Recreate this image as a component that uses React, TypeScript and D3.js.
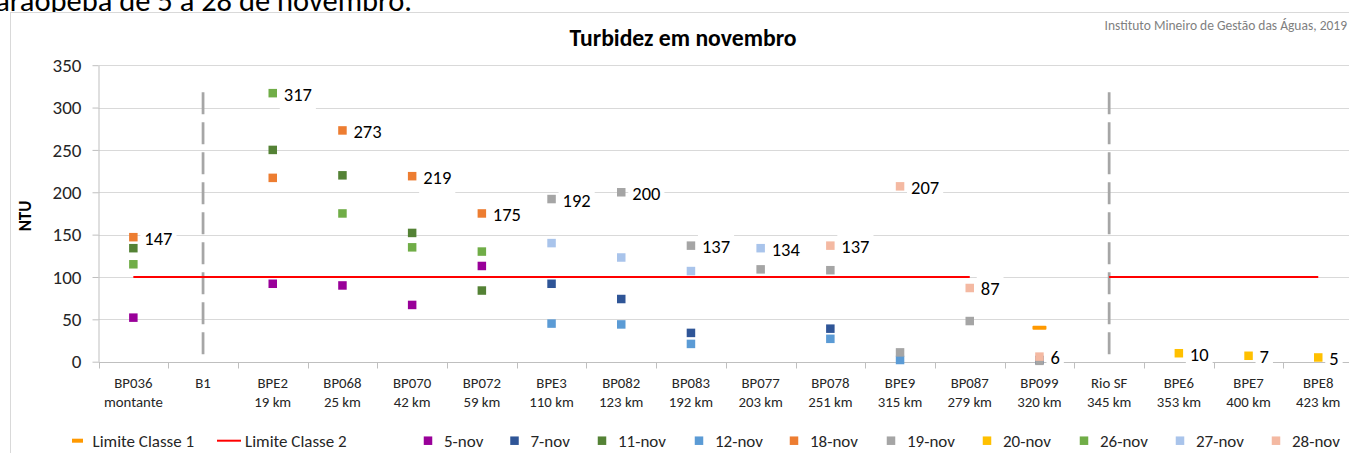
import React, { useEffect, useRef } from "react";
import * as d3 from "d3";

const categories = [
  "BP036", "B1", "BPE2", "BP068", "BP070", "BP072", "BPE3", "BP082", "BP083",
  "BP077", "BP078", "BPE9", "BP087", "BP099", "Rio SF", "BPE6", "BPE7", "BPE8",
];
const distances = [
  "montante", "", "19 km", "25 km", "42 km", "59 km", "110 km", "123 km", "192 km",
  "203 km", "251 km", "315 km", "279 km", "320 km", "345 km", "353 km", "400 km", "423 km",
];

const n = null;
// limites (NTU)
const limiteClasse1 = [n, n, n, n, n, n, n, n, n, n, n, n, n, 40, n, n, n, n];
const limiteClasse2 = [100, 100, 100, 100, 100, 100, 100, 100, 100, 100, 100, 100, 100, n, 100, 100, 100, 100];
// separadores verticais (B1 e Rio SF)
const divisores = [n, 318, n, n, n, n, n, n, n, n, n, n, n, n, 318, n, n, n];

const nov5 = [52, n, 92, 90, 67, 113, n, n, n, n, n, n, n, n, n, n, n, n];
const nov7 = [n, n, n, n, n, n, 92, 74, 34, n, 39, n, n, 2, n, n, n, n];
const nov11 = [134, n, 250, 220, 152, 84, n, n, n, n, n, n, n, n, n, n, n, n];
const nov12 = [n, n, n, n, n, n, 45, 44, 21, n, 27, 2, n, n, n, n, n, n];
const nov18 = [147, n, 217, 273, 219, 175, n, n, n, n, n, n, n, n, n, n, n, n];
const nov19 = [n, n, n, n, n, n, 192, 200, 137, 109, 108, 11, 48, 1, n, n, n, n];
const nov20 = [n, n, n, n, n, n, n, n, n, n, n, n, n, n, n, 10, 7, 5];
const nov26 = [115, n, 317, 175, 135, 130, n, n, n, n, n, n, n, n, n, n, n, n];
const nov27 = [n, n, n, n, n, n, 140, 123, 107, 134, n, n, n, n, n, n, n, n];
const nov28 = [n, n, n, n, n, n, n, n, n, n, 137, 207, 87, 6, n, n, n, n];

const dateNames = ["5-nov", "7-nov", "11-nov", "12-nov", "18-nov", "19-nov", "20-nov", "26-nov", "27-nov", "28-nov"];
const dateValues = [nov5, nov7, nov11, nov12, nov18, nov19, nov20, nov26, nov27, nov28];
const dateColors = ["#990099", "#2F5597", "#548235", "#5B9BD5", "#ED7D31", "#A5A5A5", "#FFC000", "#70AD47", "#A9C4EB", "#F4B9A2"];

const yTicks = [0, 50, 100, 150, 200, 250, 300, 350];

// legend layout (marker centres)
const legendDateX = [428, 514.5, 602, 699, 794, 891, 987, 1084, 1180, 1276];

const FONT = "Carlito, Calibri, Lato, sans-serif";

export default function App() {
  const svgRef = useRef<SVGSVGElement>(null);

  useEffect(() => {
    if (!svgRef.current) return;
    const svg = d3.select(svgRef.current);
    svg.selectAll("*").remove();

    const left = 98.5;
    const step = 69.7;
    const x = d3
      .scaleBand()
      .domain(categories)
      .range([left, left + step * categories.length]);
    const cx = (i: number) => (x(categories[i]) as number) + x.bandwidth() / 2;
    const y = d3.scaleLinear().domain([0, 350]).range([361.7, 65.2]);

    // cropped heading from the page above the chart
    svg
      .append("text")
      .attr("x", 412)
      .attr("y", 10.5)
      .attr("text-anchor", "end")
      .attr("font-family", FONT)
      .attr("font-size", 30.5)
      .attr("fill", "#000")
      .text("Paraopeba de 5 a 28 de novembro.");

    // chart frame
    svg
      .append("rect")
      .attr("x", 10.5)
      .attr("y", 12.5)
      .attr("width", 1400)
      .attr("height", 500)
      .attr("fill", "#fff")
      .attr("stroke", "#d9d9d9");

    svg
      .append("text")
      .attr("x", 1347)
      .attr("y", 29.5)
      .attr("text-anchor", "end")
      .attr("font-family", FONT)
      .attr("font-size", 13.5)
      .attr("fill", "#7f7f7f")
      .text("Instituto Mineiro de Gestão das Águas, 2019");

    svg
      .append("text")
      .attr("x", 683)
      .attr("y", 46)
      .attr("text-anchor", "middle")
      .attr("font-family", FONT)
      .attr("font-size", 23.7)
      .attr("font-weight", "bold")
      .attr("fill", "#000")
      .text("Turbidez em novembro");

    // gridlines
    const right = 1349;
    svg
      .append("g")
      .selectAll("line")
      .data(yTicks.filter((t) => t > 0))
      .enter()
      .append("line")
      .attr("x1", left)
      .attr("x2", right)
      .attr("y1", (d) => Math.round(y(d)) + 0.5)
      .attr("y2", (d) => Math.round(y(d)) + 0.5)
      .attr("stroke", "#d9d9d9");

    // y axis
    const yAxis = svg
      .append("g")
      .attr("transform", `translate(${left},0)`)
      .call(d3.axisLeft(y).tickValues(yTicks).tickSize(6).tickSizeOuter(0).tickPadding(11));
    yAxis.select(".domain").attr("stroke", "#bfbfbf");
    yAxis.selectAll(".tick line").attr("stroke", "#bfbfbf");
    yAxis
      .selectAll(".tick text")
      .attr("font-family", FONT)
      .attr("font-size", 19)
      .attr("fill", "#262626");

    svg
      .append("text")
      .attr("transform", "translate(31,216) rotate(-90)")
      .attr("text-anchor", "middle")
      .attr("font-family", FONT)
      .attr("font-size", 17)
      .attr("font-weight", "bold")
      .attr("fill", "#000")
      .text("NTU");

    // x axis: line, boundary ticks, two-line labels
    const axisY = Math.round(y(0)) + 0.5;
    svg
      .append("line")
      .attr("x1", left)
      .attr("x2", right)
      .attr("y1", axisY)
      .attr("y2", axisY)
      .attr("stroke", "#bfbfbf");
    const bounds = categories.map((c) => x(c) as number);
    svg
      .append("g")
      .selectAll("line")
      .data(bounds)
      .enter()
      .append("line")
      .attr("x1", (d) => Math.round(d) + 0.5)
      .attr("x2", (d) => Math.round(d) + 0.5)
      .attr("y1", axisY)
      .attr("y2", axisY + 6)
      .attr("stroke", "#bfbfbf");
    const xl = svg
      .append("g")
      .attr("font-family", FONT)
      .attr("font-size", 14.8)
      .attr("fill", "#262626")
      .attr("text-anchor", "middle");
    categories.forEach((c, i) => {
      xl.append("text").attr("x", cx(i)).attr("y", 388).text(c);
      if (distances[i]) xl.append("text").attr("x", cx(i)).attr("y", 407).text(distances[i]);
    });

    // vertical dashed separators
    svg
      .append("g")
      .selectAll("line")
      .data(divisores.map((v, i) => ({ v, i })).filter((d) => d.v != null))
      .enter()
      .append("line")
      .attr("x1", (d) => cx(d.i))
      .attr("x2", (d) => cx(d.i))
      .attr("y1", (d) => y(d.v as number))
      .attr("y2", y(0))
      .attr("stroke", "#a6a6a6")
      .attr("stroke-width", 2.75)
      .attr("stroke-dasharray", "22,8");

    // Limite Classe 2
    const line = d3
      .line<number | null>()
      .defined((d) => d != null)
      .x((_, i) => cx(i))
      .y((d) => y(d as number));
    svg
      .append("path")
      .datum(limiteClasse2)
      .attr("fill", "none")
      .attr("stroke", "#FF0000")
      .attr("stroke-width", 2)
      .attr("d", line);

    // Limite Classe 1 (dash marker)
    svg
      .append("g")
      .selectAll("rect")
      .data(limiteClasse1.map((v, i) => ({ v, i })).filter((d) => d.v != null))
      .enter()
      .append("rect")
      .attr("x", (d) => cx(d.i) - 7)
      .attr("y", (d) => y(d.v as number) - 2)
      .attr("width", 14)
      .attr("height", 4)
      .attr("rx", 1)
      .attr("fill", "#FF9900");

    // date series markers
    const ms = 8.5;
    dateValues.forEach((vals, s) => {
      svg
        .append("g")
        .selectAll("rect")
        .data(vals.map((v, i) => ({ v, i })).filter((d) => d.v != null))
        .enter()
        .append("rect")
        .attr("x", (d) => cx(d.i) - ms / 2)
        .attr("y", (d) => y(d.v as number) - ms / 2)
        .attr("width", ms)
        .attr("height", ms)
        .attr("fill", dateColors[s]);
    });

    // data labels on the highest reading of each station
    const lg = svg.append("g");
    categories.forEach((_, i) => {
      const vs = dateValues.map((a) => a[i]).filter((v) => v != null) as number[];
      if (!vs.length) return;
      const m = d3.max(vs) as number;
      const px = cx(i);
      const py = y(m);
      const box = lg.append("rect").attr("fill", "#fff");
      const t = lg
        .append("text")
        .attr("x", px + 11)
        .attr("y", py + 7.5)
        .attr("font-family", FONT)
        .attr("font-size", 18.5)
        .attr("fill", "#000")
        .text(String(m));
      const w = (t.node() as SVGTextElement).getComputedTextLength();
      box
        .attr("x", px + 7)
        .attr("y", py - 12)
        .attr("width", w + 8)
        .attr("height", 29);
    });

    // legend
    const legY = 440.7;
    const leg = svg
      .append("g")
      .attr("font-family", FONT)
      .attr("font-size", 17)
      .attr("fill", "#262626");
    leg
      .append("rect")
      .attr("x", 72)
      .attr("y", legY - 2)
      .attr("width", 11)
      .attr("height", 4)
      .attr("fill", "#FF9900");
    leg.append("text").attr("x", 92.5).attr("y", legY + 6).text("Limite Classe 1");
    leg
      .append("line")
      .attr("x1", 217)
      .attr("x2", 241)
      .attr("y1", legY)
      .attr("y2", legY)
      .attr("stroke", "#FF0000")
      .attr("stroke-width", 2);
    leg.append("text").attr("x", 245).attr("y", legY + 6).text("Limite Classe 2");
    dateNames.forEach((name, s) => {
      const lx = legendDateX[s];
      leg
        .append("rect")
        .attr("x", lx - 4.25)
        .attr("y", legY - 4.25)
        .attr("width", 8.5)
        .attr("height", 8.5)
        .attr("fill", dateColors[s]);
      leg.append("text").attr("x", lx + 16).attr("y", legY + 6).text(name);
    });
  }, []);

  return (
    <svg
      ref={svgRef}
      width={1349}
      height={453}
      style={{ position: "absolute", left: 0, top: 0, background: "#fff" }}
    />
  );
}
